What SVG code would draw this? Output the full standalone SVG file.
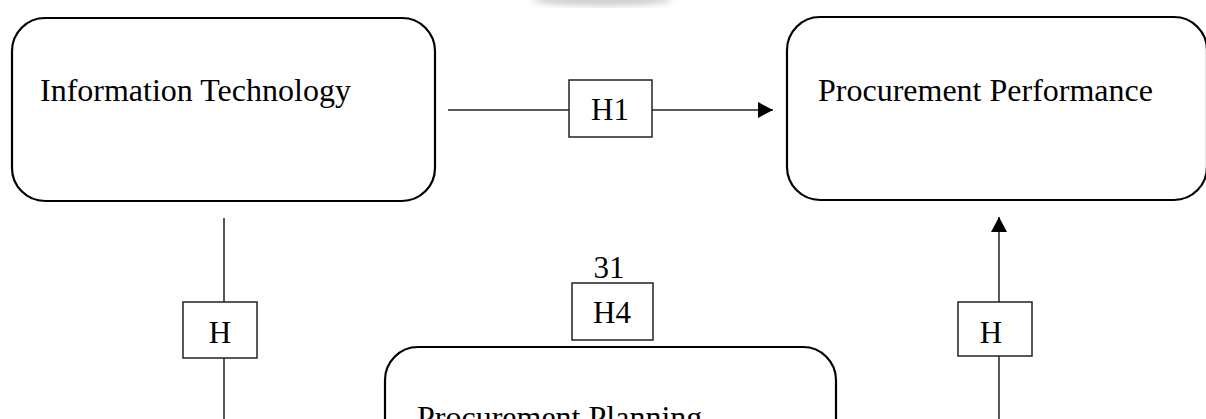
<svg xmlns="http://www.w3.org/2000/svg" width="1206" height="419" viewBox="0 0 1206 419">
<defs>
<style>
.node{fill:#fff;stroke:#000;stroke-width:2.2}
.hbox{fill:#fff;stroke:#222;stroke-width:1.5}
.conn{stroke:#222;stroke-width:1.5;fill:none}
text{font-family:"Liberation Serif","Times New Roman",serif;fill:#000}
.big{font-size:32px}
.lab{font-size:31px}
</style>
<marker id="arr" markerWidth="16" markerHeight="16" refX="15" refY="8" orient="auto" markerUnits="userSpaceOnUse">
<path d="M0,0 L15,8 L0,16 Z" fill="#000"/>
</marker>
<filter id="blur"><feGaussianBlur stdDeviation="3"/></filter>
</defs>
<rect width="1206" height="419" fill="#fff"/>
<ellipse cx="602" cy="0" rx="70" ry="6" fill="#cfcfcf" filter="url(#blur)"/>
<g id="connectors">
<line class="conn" x1="448" y1="110" x2="569" y2="110"/>
<line class="conn" x1="652" y1="110" x2="773" y2="110" marker-end="url(#arr)"/>
<line class="conn" x1="224" y1="218" x2="224" y2="302"/>
<line class="conn" x1="224" y1="358" x2="224" y2="419"/>
<line class="conn" x1="999" y1="419" x2="999" y2="356"/>
<line class="conn" x1="999" y1="302" x2="999" y2="217" marker-end="url(#arr)"/>
</g>
<g id="it">
<rect class="node" x="12" y="18" width="423" height="183" rx="33"/>
<text class="big" x="40" y="101">Information Technology</text>
</g>
<g id="pp">
<rect class="node" x="787" y="17" width="420" height="183" rx="33"/>
<text class="big" x="818" y="101">Procurement Performance</text>
</g>
<g id="plan">
<rect class="node" x="385" y="347" width="451" height="160" rx="33"/>
<text class="big" x="417" y="428">Procurement Planning</text>
</g>
<g id="h1">
<rect class="hbox" x="569" y="80" width="83" height="57"/>
<text class="lab" x="610" y="120" text-anchor="middle">H1</text>
</g>
<g id="h4">
<text class="lab" x="609" y="278" text-anchor="middle">31</text>
<rect class="hbox" x="572" y="283" width="81" height="57"/>
<text class="lab" x="612" y="323" text-anchor="middle">H4</text>
</g>
<g id="hleft">
<rect class="hbox" x="183" y="302" width="74" height="56"/>
<text class="lab" x="220" y="343" text-anchor="middle">H</text>
</g>
<g id="hright">
<rect class="hbox" x="958" y="302" width="74" height="54"/>
<text class="lab" x="991" y="343" text-anchor="middle">H</text>
</g>
</svg>
